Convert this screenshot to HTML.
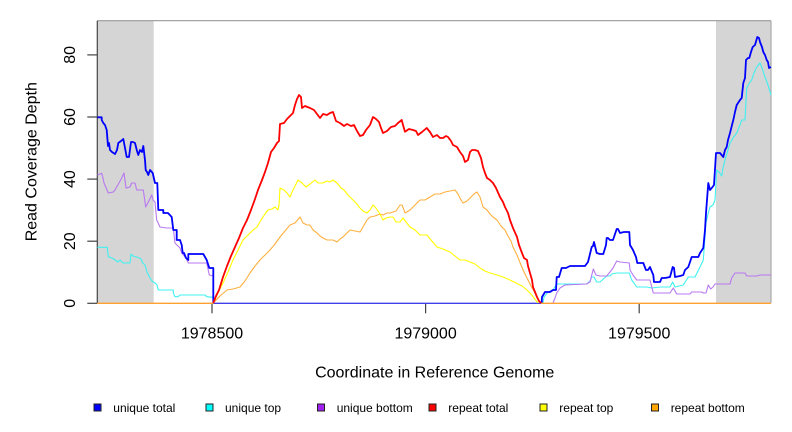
<!DOCTYPE html>
<html>
<head>
<meta charset="utf-8">
<style>
  html,body{margin:0;padding:0;background:#fff;}
  svg{display:block;}
  text{font-family:"Liberation Sans", Arial, sans-serif; fill:#000;}
</style>
</head>
<body>
<svg width="792" height="432" viewBox="0 0 792 432" xmlns="http://www.w3.org/2000/svg">
  <rect x="0" y="0" width="792" height="432" fill="#fff"/>
  <!-- gray regions -->
  <rect x="97.3" y="20.7" width="56.4" height="282.6" fill="#D5D5D5"/>
  <rect x="716" y="20.7" width="55" height="282.6" fill="#D5D5D5"/>

  <!-- box -->
  <line x1="97.3" y1="20.7" x2="771" y2="20.7" stroke="#9a9a9a" stroke-width="1.2"/>
  <line x1="771" y1="20.7" x2="771" y2="303.3" stroke="#aaaaaa" stroke-width="1.2"/>
  <line x1="97.3" y1="20.7" x2="97.3" y2="303.3" stroke="#444" stroke-width="1.2"/>

  <!-- ticks -->
  <g stroke="#444" stroke-width="1.2">
    <line x1="87.3" y1="303.3" x2="97.3" y2="303.3"/>
    <line x1="87.3" y1="241.2" x2="97.3" y2="241.2"/>
    <line x1="87.3" y1="179.1" x2="97.3" y2="179.1"/>
    <line x1="87.3" y1="117.0" x2="97.3" y2="117.0"/>
    <line x1="87.3" y1="54.9" x2="97.3" y2="54.9"/>
    <line x1="212" y1="303.3" x2="212" y2="313.3"/>
    <line x1="425.6" y1="303.3" x2="425.6" y2="313.3"/>
    <line x1="639.2" y1="303.3" x2="639.2" y2="313.3"/>
  </g>

  <!-- labels -->
  <g font-size="16" text-anchor="middle">
    <text x="75" y="303.3" transform="rotate(-90 75 303.3)">0</text>
    <text x="75" y="241.2" transform="rotate(-90 75 241.2)">20</text>
    <text x="75" y="179.1" transform="rotate(-90 75 179.1)">40</text>
    <text x="75" y="117.0" transform="rotate(-90 75 117.0)">60</text>
    <text x="75" y="54.9" transform="rotate(-90 75 54.9)">80</text>
    <text x="212" y="338.3">1978500</text>
    <text x="425.6" y="338.3">1979000</text>
    <text x="639.2" y="338.3">1979500</text>
    <text x="434.7" y="377.3">Coordinate in Reference Genome</text>
    <text x="36.5" y="161.7" transform="rotate(-90 36.5 161.7)">Read Coverage Depth</text>
  </g>

  <!-- series -->
  <g fill="none" stroke-linejoin="round">
    <!-- unique top (cyan) -->
    <polyline stroke="#40F0F0" stroke-width="1.1" points="97.3,247.3 107.3,247.3 108.3,256.7 112,258 115,260 118,262 120,260 123,263 125,263 130,263 131,254 133,256 136.7,257 139,258 141,259 142.7,263 145,265 147,272 150,278 152,281 155,283 157,285 158.3,290 173.3,290 173.3,293 175,296.7 178,296.7 180,295 188.3,295 205,295 206.7,296.7 213.3,297.3 213.3,303.3"/>
    <polyline stroke="#40F0F0" stroke-width="1.1" points="543,303 544,297 548,292 553,290 556.7,284 570,284 586.7,284 590,281 591.7,277 594,277 596.7,282 600,282 606.7,276 610,276 612,274 616.7,273 629.3,273 631.7,280 634,283 636.7,287 646.7,287 651.7,288 660,287 670,287 672.7,282 675,287 683.3,285 688.3,277 695,277 700,267 703.3,260 706,223 708,214 710,207 713,205 715,200 716.7,170 719,172 721.7,176 723,168 725,160 728,150 730,143 733,138 736.7,133 740,125 741.7,120 745,120 746.7,88 750,82 751.7,80 754,73 756.7,67 760,63 762,68 765,77 768,85 771,95"/>
    <!-- unique bottom (purple) -->
    <polyline stroke="#B878F0" stroke-width="1.1" points="97.3,175 101.7,173.3 103,178 104,183 108.3,193 113.3,192 115,190 116.7,187 119,183 121.7,178 124,173 126,188 130,187 131.7,183 135,183 136.7,190 143.3,190 145.7,207 148.3,202 151.7,195 153,200 155,202 156.7,220 160,227 166.7,228 173.3,228 175,243 180,248 181.7,253 186,258 188.3,263 206.7,263 209.3,275 213.3,276 213.3,303.3"/>
    <polyline stroke="#B878F0" stroke-width="1.1" points="553,303 555,298 556.7,293 560,288 561.7,287 565,285 586.7,284 590,282 593.3,269 596,275 600,276 606.7,276 610,272 613,268 616.7,261 620,262 629.3,263 630,270 633,275 636.7,280 650,280 653.3,293 670,293 673.3,288 676.7,294 690,294 691.7,292 701.7,292 703.3,293 706,293 708.3,285 710.7,289 713,287 715,284 730,284 731.7,278 735,273 745,273 746.7,276 756.7,276 760,275 771,275"/>
    <!-- unique total (blue) -->
    <polyline stroke="#0000FF" stroke-width="1.8" points="97.3,117.3 101.7,117.3 101.7,120 103.3,123 105,125 106.7,130 108,146 109,143 110,150 112,152 115,154 117,150 118.3,143 121,141 123.3,139 125,148 126.7,157 129,157 131,142 133,142 135,143 137,151 138.3,155 140,150 142,152 143.3,146 145,160 145.7,170 147,172 148.3,175 150,170 152.7,173 155,183 157.3,183 158.3,210 163.3,210 163.3,213 168,213 171.7,217 173.3,230 176.7,230 176.7,240 180,240 181.7,245 182.7,253 184,253 186,258 188.3,260 188.3,254 203.3,254 206.7,260 209.3,268 213.3,268 213.3,303.3"/>
    <polyline stroke="#0000FF" stroke-width="1.8" points="541.7,303 542,297 545,292 550,292 553,290 556,290 556.7,277 559,277 561.7,268 566,268 570,266 585,266 588,262 591.7,247 593,246 594,242 596.7,253 600,254 603.3,254 606,245 606.7,238 608,238 610,240 613,240 616.7,229 618,229 620,233 624,232 629.3,232 630,245 633,250 636,257 637.3,263 643.3,263 646,270 648,270 650,267 652,272 653.3,275 654,282 660,282 661.7,278 665,278 670,277 672.7,267 674,268 675,277 680,276 683.3,275 685,270 688.3,267 690,262 691.7,257 698.3,257 700,253 703.3,248 705,230 706,213 708.3,183 710,190 711.7,188 714,185 716,153 720,153 723.3,157 725,150 726.7,147 728,140 730,133 732,125 733.3,120 735,112 736.7,105 740,100 741.7,98 743.3,83 745,78 746,60 748,58 749.3,58 751,52 752.7,47 755,45 757.3,37 759,38 760,42 762,47 763.3,52 765,55 766.7,60 768,62 769,68 771,67"/>
    <!-- zero lines -->
    <line x1="97.3" y1="303.3" x2="213.3" y2="303.3" stroke="#FFA030" stroke-width="1.4"/>
    <line x1="540" y1="303.3" x2="771" y2="303.3" stroke="#FFA030" stroke-width="1.4"/>
    <line x1="213.3" y1="303.3" x2="541" y2="303.3" stroke="#4040E8" stroke-width="1.4"/>
    <!-- repeat bottom (orange) -->
    <polyline stroke="#FFB040" stroke-width="1.1" points="213.3,303 220,296 227,290 233,289 240,287 245,281 250,273 255,266 260,260 265,255 270,250 275,244 280,237 285,231 290,225 295,223 300,217 303,223 307,225 310,225 313,230 317,233 320,236 323,238 327,240 330,240 333,240 337,242 340,239 343,237 347,233 350,230 355,231 360,232 363,227 367,220 370,217 375,216 380,214 383,215 387,213 390,213 393,212 396,211 400,205 402,205 404,210 405,213 410,210 415,205 420,200 425,200 430,197 435,194 440,194 445,192 450,191 455,190 458,194 461,200 463,203 467,201 470,198 474,194 477,192 480,197 483,207 487,210 490,214 493,217 497,220 501,226 505,230 508,236 511,241 513,247 517,255 521,265 524,272 528,280 531,286 535,293 538,299 540,303"/>
    <!-- repeat top (yellow) -->
    <polyline stroke="#FFFF00" stroke-width="1.1" points="213.3,303 218,293 223,283 228,272 233,260 238,250 243,240 248,235 252,231 257,227 261,220 265,214 268,210 272,209 275,207 278,210 279,205 280,188 284,190 287,193 290,197 293,190 296,184 298,180 302,183 306,187 310,184 315,180 318,183 323,183 327,181 330,182 333,180 337,183 341,188 344,190 348,195 353,200 356,203 360,208 363,211 367,213 370,210 373,205 376,208 380,214 383,220 386,218 390,217 393,217 396,222 400,222 403,218 406,222 410,227 415,230 420,235 427,235 431,240 437,247 443,249 450,252 455,256 460,260 465,260 470,262 475,264 480,268 485,271 490,273 497,275 503,277 510,280 516,283 522,286 527,290 531,294 534,298 538,303"/>
    <!-- repeat total (red) -->
    <polyline stroke="#FF0000" stroke-width="1.8" points="213.3,303 216,296 219,290 223,277 227,266 231,256 235,247 239,238 243,228 247,220 251,210 255,199 258,190 262,180 265,172 268,163 271,152 274,148 277,143 279,141 280,124 284,123 287,119 290,116 293,113 295,105 297,99 299,95 301,97 302,108 305,106 310,108 314,110 317,114 320,118 323,114 327,115 330,113 333,112 336,121 340,123 344,126 347,124 351,126 354,125 357,131 360,136 363,135 366,130 370,125 373,117 376,119 379,122 381,128 383,133 387,131 391,127 395,126 398,123 401.7,120 403,125 405,131.7 409,129 413,130 416,131 418,135 422,132 426.7,128 430,132 433,137 437,135 440,138 443,138 446,136 448,137 451,141 453,145 457,147 460,152 463,156 465,162 468,160 470,152 472,150 475,150 478,151 481,158 483,167 485,173 487,178 490,180 493,183 496,188 500,197 503,202 505,207 508,213 510,220 513,228 517,237 519,245 522,253 524,258 527,260 528,266 530,273 532,280 533,287 535,292 537,297 539,301 541,303"/>
  </g>

  <!-- legend -->
  <g stroke="#222" stroke-width="1">
    <rect x="94" y="404" width="7" height="7" fill="#0000FF"/>
    <rect x="206" y="404" width="7" height="7" fill="#00FFFF"/>
    <rect x="317.5" y="404" width="7" height="7" fill="#A020F0"/>
    <rect x="429" y="404" width="7" height="7" fill="#FF0000"/>
    <rect x="540" y="404" width="7" height="7" fill="#FFFF00"/>
    <rect x="651.5" y="404" width="7" height="7" fill="#FFA500"/>
  </g>
  <g font-size="12">
    <text x="113.3" y="412">unique total</text>
    <text x="225" y="412">unique top</text>
    <text x="336.7" y="412">unique bottom</text>
    <text x="448.3" y="412">repeat total</text>
    <text x="559.3" y="412">repeat top</text>
    <text x="670.7" y="412">repeat bottom</text>
  </g>
</svg>
</body>
</html>
